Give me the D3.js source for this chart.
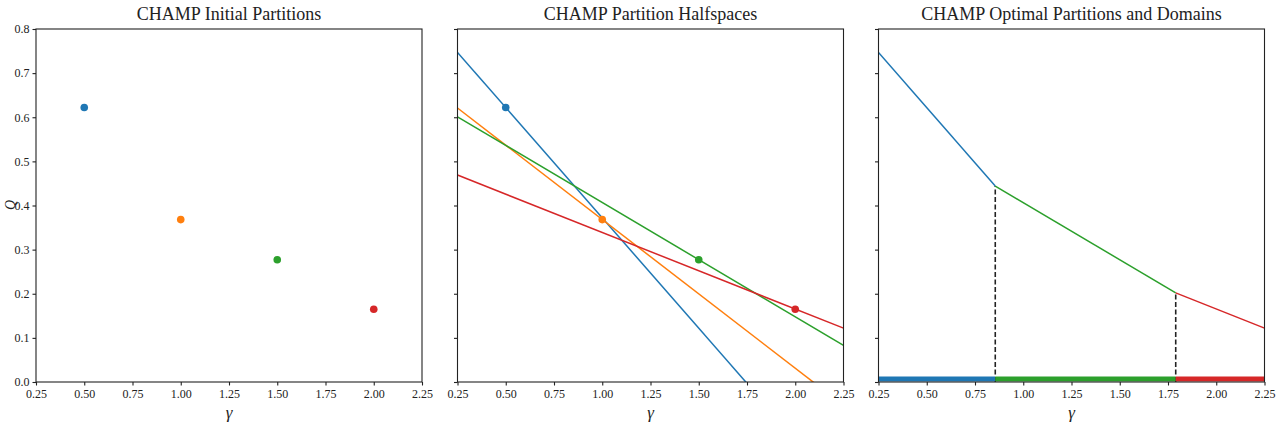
<!DOCTYPE html>
<html lang="en">
<head>
    <meta charset="UTF-8">
    <title>CHAMP</title>
    <script src="https://d3js.org/d3.v7.min.js"></script>
    <style>
        body { margin: 0; background: #fff; }
        text { font-family: "Liberation Serif", "DejaVu Serif", serif; fill: #222; }
        .tick text { font-size: 12px; }
        .title { font-size: 18px; }
        .xlabel { font-size: 17px; font-style: italic; }
        .ylabel { font-size: 14px; font-style: italic; }
    </style>
</head>
<body>
    <svg id="chart"></svg>
    <script>
        // values
        const gammaTicks = [0.25, 0.5, 0.75, 1.0, 1.25, 1.5, 1.75, 2.0, 2.25];
        const qTicks = [0, 0.1, 0.2, 0.3, 0.4, 0.5, 0.6, 0.7, 0.8];
        const colors = ["#1f77b4", "#ff7f0e", "#2ca02c", "#d62728"];

        const partitionGamma = [0.5, 1.0, 1.5, 2.0];
        const partitionQ = [0.622, 0.368, 0.277, 0.165];

        // each halfspace line, Q at gamma = 0.25 and at gamma = 2.25
        const halfspaceStart = [0.747, 0.621, 0.601, 0.469];
        const halfspaceEnd = [-0.253, -0.053, 0.083, 0.122];

        // upper envelope breakpoints and which partition owns each domain
        const domainGamma = [0.25, 0.855, 1.79, 2.25];
        const domainQ = [0.747, 0.444, 0.202, 0.122];
        const domainOwner = [0, 2, 3];
        const domainBarQ = 0.007;

        const titles = ["CHAMP Initial Partitions", "CHAMP Partition Halfspaces", "CHAMP Optimal Partitions and Domains"];

        const width = 1279, height = 425;
        const panelLeft = [36, 457.5, 878.5];
        const panelW = 386, plotTop = 29, plotBottom = 382;

        const svg = d3.select("#chart").attr("width", width).attr("height", height);

        const y = d3.scaleLinear().domain([0, 0.8]).range([plotBottom, plotTop]);

        panelLeft.forEach((left, i) => {
            const x = d3.scaleLinear().domain([0.25, 2.25]).range([left, left + panelW]);
            const g = svg.append("g");

            g.append("clipPath").attr("id", "clip" + i)
                .append("rect").attr("x", left).attr("y", plotTop).attr("width", panelW).attr("height", plotBottom - plotTop);
            const plot = g.append("g").attr("clip-path", `url(#clip${i})`);

            if (i === 1) {
                plot.selectAll("line.half")
                    .data(halfspaceStart)
                    .join("line")
                    .attr("x1", x(0.25)).attr("x2", x(2.25))
                    .attr("y1", d => y(d))
                    .attr("y2", (d, k) => y(halfspaceEnd[k]))
                    .attr("stroke", (d, k) => colors[k])
                    .attr("stroke-width", 1.5);
            }

            if (i < 2) {
                plot.selectAll("circle")
                    .data(partitionQ)
                    .join("circle")
                    .attr("cx", (d, k) => x(partitionGamma[k]))
                    .attr("cy", d => y(d))
                    .attr("r", 3.8)
                    .attr("fill", (d, k) => colors[k]);
            }

            if (i === 2) {
                const segs = domainOwner.map((owner, k) => ({ owner, k }));
                // dashed boundaries
                plot.selectAll("line.bound")
                    .data(domainGamma.slice(1, -1))
                    .join("line")
                    .attr("class", "bound")
                    .attr("x1", d => x(d)).attr("x2", d => x(d))
                    .attr("y1", y(0)).attr("y2", (d, k) => y(domainQ[k + 1]))
                    .attr("stroke", "#222").attr("stroke-width", 1.6)
                    .attr("stroke-dasharray", "5,2.5");
                plot.selectAll("line.env")
                    .data(segs)
                    .join("line")
                    .attr("class", "env")
                    .attr("x1", d => x(domainGamma[d.k])).attr("x2", d => x(domainGamma[d.k + 1]))
                    .attr("y1", d => y(domainQ[d.k])).attr("y2", d => y(domainQ[d.k + 1]))
                    .attr("stroke", d => colors[d.owner]).attr("stroke-width", 1.5);
                plot.selectAll("line.bar")
                    .data(segs)
                    .join("line")
                    .attr("class", "bar")
                    .attr("x1", d => x(domainGamma[d.k])).attr("x2", d => x(domainGamma[d.k + 1]))
                    .attr("y1", y(domainBarQ)).attr("y2", y(domainBarQ))
                    .attr("stroke", d => colors[d.owner]).attr("stroke-width", 5);
            }

            // axes
            g.append("g").attr("transform", `translate(0,${plotBottom})`)
                .call(d3.axisBottom(x).tickValues(gammaTicks).tickFormat(d3.format(".2f")).tickSize(3.5).tickPadding(4));
            const ya = d3.axisLeft(y).tickValues(qTicks).tickSize(3.5).tickPadding(3);
            ya.tickFormat(i === 0 ? d3.format(".1f") : "");
            g.append("g").attr("transform", `translate(${left},0)`).call(ya);
            g.selectAll(".domain").remove();
            g.selectAll(".tick line").attr("stroke", "#222").attr("stroke-width", 1.1);

            g.append("rect").attr("x", left).attr("y", plotTop).attr("width", panelW).attr("height", plotBottom - plotTop)
                .attr("fill", "none").attr("stroke", "#222").attr("stroke-width", 1.1);

            g.append("text").attr("class", "title")
                .attr("x", left + panelW / 2).attr("y", plotTop - 9)
                .attr("text-anchor", "middle").text(titles[i]);
            g.append("text").attr("class", "xlabel")
                .attr("x", left + panelW / 2).attr("y", 418)
                .attr("text-anchor", "middle").text("γ");
        });

        // y label sits just inside the left edge
        svg.append("text").attr("class", "ylabel")
            .attr("transform", "translate(15,205) rotate(-90)")
            .attr("text-anchor", "middle").text("Q");
    </script>
</body>
</html>
